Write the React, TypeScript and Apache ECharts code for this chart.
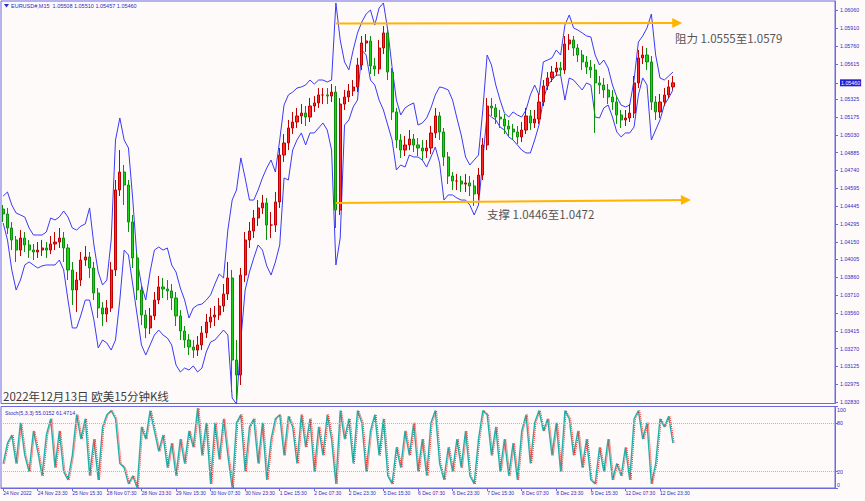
import React, { useEffect, useRef } from "react";
import * as echarts from "echarts";

const dateLabels = [
  "24 Nov 2022", "24 Nov 23:30", "25 Nov 15:30", "28 Nov 07:30", "28 Nov 23:30",
  "29 Nov 15:30", "30 Nov 07:30", "30 Nov 23:30", "1 Dec 15:30", "2 Dec 07:30",
  "2 Dec 23:30", "5 Dec 15:30", "6 Dec 07:30", "6 Dec 23:30", "7 Dec 15:30",
  "8 Dec 07:30", "8 Dec 23:30", "9 Dec 15:30", "12 Dec 07:30", "12 Dec 23:30",
];

const priceTicks = [
  1.0606, 1.0591, 1.0576, 1.05615, 1.0546, 1.05325, 1.05175, 1.0503, 1.04885, 1.0474,
  1.04595, 1.04445, 1.04295, 1.0415, 1.04005, 1.0386, 1.0371, 1.0356, 1.03415, 1.0327,
  1.03125, 1.02975, 1.0283,
];
const stochTicks = [0, 20, 80, 100];
const stochLevels = [20, 80];
const currentPrice = 1.0546;
const firstOpen = 1.0442;

// 2-hour bars
const closes = [
  1.04379, 1.04264, 1.04165, 1.04082, 1.04181, 1.04124, 1.04082, 1.04066, 1.04082, 1.04099,
  1.04082, 1.04132, 1.04148, 1.04181, 1.04099, 1.03918, 1.03753, 1.03835, 1.04000, 1.04025,
  1.03934, 1.03728, 1.03605, 1.03555, 1.03605, 1.03918, 1.04577, 1.04725, 1.04618, 1.04313,
  1.04017, 1.03753, 1.03547, 1.03440, 1.03539, 1.03670, 1.03778, 1.03761, 1.03745, 1.03687,
  1.03539, 1.03415, 1.03341, 1.03283, 1.03258, 1.03300, 1.03399, 1.03489, 1.03530, 1.03547,
  1.03621, 1.03720, 1.03852, 1.03176, 1.03052, 1.03876, 1.04165, 1.04239, 1.04346, 1.04429,
  1.04470, 1.04288, 1.04288, 1.04478, 1.04865, 1.04964, 1.05088, 1.05137, 1.05187, 1.05211,
  1.05178, 1.05269, 1.05294, 1.05360, 1.05360, 1.05351, 1.05384, 1.04412, 1.05285, 1.05343,
  1.05393, 1.05426, 1.05607, 1.05788, 1.05805, 1.05599, 1.05574, 1.05747, 1.05871, 1.05549,
  1.05220, 1.04989, 1.04906, 1.04948, 1.04997, 1.04948, 1.04923, 1.04898, 1.04923, 1.05047,
  1.05187, 1.05055, 1.04849, 1.04692, 1.04651, 1.04651, 1.04626, 1.04635, 1.04610, 1.04544,
  1.04700, 1.04948, 1.05269, 1.05253, 1.05178, 1.05162, 1.05104, 1.05079, 1.05055, 1.05014,
  1.05071, 1.05187, 1.05129, 1.05162, 1.05302, 1.05434, 1.05500, 1.05549, 1.05582, 1.05566,
  1.05780, 1.05813, 1.05747, 1.05689, 1.05632, 1.05590, 1.05566, 1.05459, 1.05442, 1.05401,
  1.05343, 1.05302, 1.05195, 1.05154, 1.05170, 1.05211, 1.05459, 1.05665, 1.05689, 1.05632,
  1.05302, 1.05220, 1.05302, 1.05360, 1.05426, 1.05460,
];

const highs = [
  1.04453, 1.04429, 1.04313, 1.04198, 1.04247, 1.04231, 1.04165, 1.04132, 1.04148, 1.04165,
  1.04148, 1.04198, 1.04231, 1.04264, 1.04231, 1.04132, 1.03984, 1.03901, 1.04066, 1.04115,
  1.04066, 1.03984, 1.03769, 1.03654, 1.03670, 1.03984, 1.04659, 1.04906, 1.04783, 1.04659,
  1.04371, 1.04066, 1.03794, 1.03588, 1.03605, 1.03736, 1.03868, 1.03852, 1.03835, 1.03802,
  1.03736, 1.03588, 1.03456, 1.03390, 1.03341, 1.03374, 1.03456, 1.03555, 1.03605, 1.03621,
  1.03687, 1.03802, 1.03984, 1.03918, 1.03341, 1.03934, 1.04231, 1.04313, 1.04412, 1.04494,
  1.04536, 1.04511, 1.04396, 1.04560, 1.04923, 1.05038, 1.05154, 1.05220, 1.05253, 1.05285,
  1.05269, 1.05335, 1.05351, 1.05417, 1.05417, 1.05417, 1.05450, 1.05434, 1.05335, 1.05401,
  1.05450, 1.05483, 1.05665, 1.05846, 1.05862, 1.05846, 1.05665, 1.05813, 1.05928, 1.05895,
  1.05582, 1.05253, 1.05038, 1.05022, 1.05071, 1.05038, 1.05005, 1.04989, 1.04989, 1.05104,
  1.05253, 1.05220, 1.05088, 1.04890, 1.04725, 1.04709, 1.04692, 1.04709, 1.04692, 1.04659,
  1.04758, 1.05005, 1.05335, 1.05335, 1.05285, 1.05236, 1.05203, 1.05154, 1.05121, 1.05104,
  1.05137, 1.05253, 1.05236, 1.05236, 1.05368, 1.05483, 1.05549, 1.05599, 1.05632, 1.05632,
  1.05846, 1.05862, 1.05846, 1.05780, 1.05730, 1.05681, 1.05648, 1.05615, 1.05516, 1.05500,
  1.05450, 1.05401, 1.05351, 1.05236, 1.05236, 1.05285, 1.05516, 1.05730, 1.05763, 1.05747,
  1.05681, 1.05351, 1.05368, 1.05417, 1.05483, 1.05516,
];

const lows = [
  1.04313, 1.04214, 1.04082, 1.03984, 1.04033, 1.04066, 1.04017, 1.04000, 1.04017, 1.04033,
  1.04017, 1.04049, 1.04082, 1.04099, 1.03984, 1.03835, 1.03629, 1.03572, 1.03786, 1.03951,
  1.03852, 1.03670, 1.03522, 1.03456, 1.03489, 1.03572, 1.03868, 1.04527, 1.04453, 1.04231,
  1.03934, 1.03670, 1.03464, 1.03357, 1.03390, 1.03506, 1.03637, 1.03687, 1.03670, 1.03588,
  1.03456, 1.03341, 1.03275, 1.03217, 1.03193, 1.03209, 1.03258, 1.03357, 1.03440, 1.03456,
  1.03506, 1.03572, 1.03670, 1.02912, 1.02846, 1.02970, 1.03819, 1.04099, 1.04181, 1.04280,
  1.04379, 1.04165, 1.04181, 1.04231, 1.04429, 1.04808, 1.04906, 1.05038, 1.05088, 1.05121,
  1.05104, 1.05137, 1.05220, 1.05253, 1.05285, 1.05285, 1.05302, 1.04264, 1.04371, 1.05236,
  1.05302, 1.05351, 1.05384, 1.05566, 1.05714, 1.05533, 1.05516, 1.05533, 1.05697, 1.05483,
  1.05154, 1.04923, 1.04841, 1.04857, 1.04906, 1.04890, 1.04857, 1.04824, 1.04841, 1.04873,
  1.05005, 1.04989, 1.04775, 1.04626, 1.04577, 1.04577, 1.04560, 1.04560, 1.04527, 1.04445,
  1.04494, 1.04659, 1.04906, 1.05187, 1.05121, 1.05088, 1.05038, 1.05022, 1.04989, 1.04956,
  1.04972, 1.05038, 1.05071, 1.05088, 1.05121, 1.05269, 1.05401, 1.05467, 1.05516, 1.05516,
  1.05533, 1.05730, 1.05681, 1.05632, 1.05566, 1.05533, 1.05500, 1.05047, 1.05368, 1.05335,
  1.05285, 1.05236, 1.05121, 1.05088, 1.05104, 1.05137, 1.05170, 1.05417, 1.05615, 1.05566,
  1.05236, 1.05154, 1.05170, 1.05269, 1.05335, 1.05401,
];

const upperBand = [
  1.04527, 1.04560, 1.04453, 1.04387, 1.04371, 1.04354, 1.04264, 1.04206, 1.04206, 1.04206,
  1.04231, 1.04346, 1.04330, 1.04354, 1.04404, 1.04354, 1.04264, 1.04247, 1.04280, 1.04297,
  1.04429, 1.04124, 1.03901, 1.03794, 1.03835, 1.04165, 1.04989, 1.05170, 1.04989, 1.04923,
  1.04494, 1.04000, 1.03794, 1.03670, 1.03901, 1.04082, 1.04107, 1.04082, 1.04099, 1.03959,
  1.03901, 1.03769, 1.03670, 1.03522, 1.03605, 1.03629, 1.03637, 1.03670, 1.03712, 1.03802,
  1.03885, 1.03852, 1.04247, 1.04494, 1.04577, 1.04841, 1.04676, 1.04494, 1.04494, 1.04577,
  1.04676, 1.04758, 1.04824, 1.04725, 1.04989, 1.05277, 1.05360, 1.05384, 1.05417, 1.05426,
  1.05442, 1.05483, 1.05450, 1.05483, 1.05483, 1.05467, 1.05483, 1.06118, 1.05813, 1.05632,
  1.05566, 1.05730, 1.05871, 1.05961, 1.06027, 1.06060, 1.05936, 1.06077, 1.06118, 1.05895,
  1.05590, 1.05318, 1.05195, 1.05253, 1.05277, 1.05294, 1.05112, 1.05129, 1.05170, 1.05253,
  1.05360, 1.05426, 1.05417, 1.05401, 1.05318, 1.05170, 1.05030, 1.04849, 1.04783, 1.04824,
  1.04865, 1.05236, 1.05689, 1.05607, 1.05442, 1.05318, 1.05211, 1.05178, 1.05220, 1.05195,
  1.05178, 1.05236, 1.05360, 1.05442, 1.05360, 1.05632, 1.05648, 1.05665, 1.05730, 1.05689,
  1.05936, 1.06019, 1.05912, 1.05895, 1.05871, 1.05846, 1.05838, 1.05689, 1.05607, 1.05648,
  1.05582, 1.05442, 1.05343, 1.05277, 1.05261, 1.05277, 1.05483, 1.05796, 1.05846, 1.05912,
  1.06027, 1.05689, 1.05500, 1.05483, 1.05516, 1.05549,
];

const lowerBand = [
  1.04305, 1.04165, 1.03918, 1.03753, 1.03835, 1.03959, 1.03984, 1.03959, 1.03934, 1.03951,
  1.03959, 1.03959, 1.03959, 1.04000, 1.03918, 1.03670, 1.03440, 1.03440, 1.03547, 1.03670,
  1.03670, 1.03506, 1.03275, 1.03341, 1.03316, 1.03258, 1.03341, 1.03670, 1.04082, 1.04041,
  1.03794, 1.03547, 1.03300, 1.03217, 1.03300, 1.03382, 1.03423, 1.03382, 1.03357, 1.03300,
  1.03135, 1.03077, 1.03110, 1.03094, 1.03127, 1.03077, 1.03110, 1.03242, 1.03324, 1.03341,
  1.03382, 1.03423, 1.03382, 1.02863, 1.02813, 1.03341, 1.03753, 1.03901, 1.04017, 1.04124,
  1.04082, 1.03951, 1.03876, 1.03984, 1.04124, 1.04676, 1.04659, 1.04906, 1.04989, 1.05047,
  1.04948, 1.05047, 1.05047, 1.05088, 1.05129, 1.05071, 1.04906, 1.03959, 1.04181, 1.05112,
  1.05154, 1.05261, 1.05318, 1.05730, 1.05689, 1.05483, 1.05442, 1.05318, 1.05236, 1.05112,
  1.04989, 1.04742, 1.04783, 1.04766, 1.04865, 1.04849, 1.04849, 1.04824, 1.04766, 1.04849,
  1.04931, 1.04799, 1.04494, 1.04536, 1.04536, 1.04511, 1.04494, 1.04494, 1.04453, 1.04371,
  1.04453, 1.04824, 1.05211, 1.05178, 1.05154, 1.05096, 1.05071, 1.05014, 1.04989, 1.04948,
  1.04906, 1.04882, 1.04882, 1.04989, 1.05112, 1.05318, 1.05442, 1.05483, 1.05524, 1.05524,
  1.05318, 1.05500, 1.05483, 1.05442, 1.05401, 1.05459, 1.05442, 1.05178, 1.05170, 1.05253,
  1.05277, 1.05178, 1.05055, 1.05014, 1.05047, 1.05047, 1.05096, 1.05360, 1.05500, 1.05442,
  1.04989, 1.05071, 1.05154, 1.05277, 1.05335, 1.05401,
];

const stochMain = [
  30, 55, 65, 30, 80, 40, 20, 70, 45, 15,
  65, 85, 25, 70, 20, 10, 40, 90, 60, 85,
  15, 60, 10, 75, 90, 95, 85, 30, 25, 5,
  15, 0, 75, 60, 95, 70, 45, 65, 25, 55,
  15, 60, 30, 70, 50, 98, 40, 80, 5, 80,
  35, 85, 40, 0, 80, 90, 20, 75, 85, 30,
  80, 10, 60, 85, 90, 40, 88, 75, 30, 90,
  50, 85, 20, 75, 40, 90, 60, 5, 95, 60,
  85, 30, 95, 80, 20, 70, 90, 40, 85, 15,
  5, 50, 25, 70, 40, 80, 20, 60, 15, 80,
  95, 30, 10, 50, 20, 60, 25, 70, 15, 5,
  60, 95, 90, 40, 75, 20, 60, 15, 55, 10,
  70, 90, 30, 80, 95, 70, 85, 40, 80, 20,
  95, 85, 40, 70, 25, 60, 10, 5, 50, 20,
  60, 10, 30, 15, 50, 10, 85, 95, 60, 80,
  5, 30, 85, 75, 88, 55,
];

const resistanceLine = [[77, 1.05949], [156, 1.05953]];
const supportLine = [[77, 1.0447], [158, 1.04494]];

const headerText = "EURUSD#,M15  1.05508 1.05510 1.05457 1.05460";
const stochHeader = "Stoch(5,3,3) 55.0152 61.4714";
const titleText = "2022年12月13日 欧美15分钟K线";
const resistanceText = "阻力 1.0555至1.0579";
const supportText = "支撑 1.0446至1.0472";

const SLOTS = 193;
const LABEL_STEP = 8;
const AXIS = "#6b6be0";
const TXT = "#2a2ac8";
const SMALL_FONT = "Liberation Sans, Tahoma, sans-serif";
const CJK_FONT = "Noto Sans CJK SC, sans-serif";

export default function App() {
  const ref = useRef<HTMLDivElement>(null);

  useEffect(() => {
    if (!ref.current) return;
    const chart = echarts.init(ref.current, null, { renderer: "svg" });

    const candles = closes.map((c, i) => {
      const o = i === 0 ? firstOpen : closes[i - 1];
      return [o, c, lows[i], highs[i]];
    });
    const categories = Array.from({ length: SLOTS }, (_, i) => String(i));
    const isLabelIdx = (i: number) =>
      i % LABEL_STEP === 0 && i / LABEL_STEP < dateLabels.length;

    const option: any = {
      animation: false,
      backgroundColor: "#fffafa",
      grid: [
        {
          left: 1, top: 1, width: 834, height: 402.5,
          show: true, borderColor: AXIS, borderWidth: 1,
          outerBoundsMode: "none",
        },
        {
          left: 1, top: 406.5, width: 834, height: 81.5,
          show: true, borderColor: AXIS, borderWidth: 1,
          outerBoundsMode: "none",
        },
      ],
      xAxis: [
        { type: "category", gridIndex: 0, data: categories, boundaryGap: true, show: false },
        {
          type: "category", gridIndex: 1, data: categories, boundaryGap: true,
          axisLine: { show: true, lineStyle: { color: AXIS } },
          axisTick: {
            show: true, alignWithLabel: true, length: 3,
            interval: (i: number) => isLabelIdx(i),
            lineStyle: { color: AXIS },
          },
          axisLabel: {
            interval: (i: number) => isLabelIdx(i),
            formatter: (v: string) => {
              const n = Number(v);
              return isLabelIdx(n) ? dateLabels[n / LABEL_STEP] : "";
            },
            align: "left", margin: 2, fontSize: 5, color: TXT, fontFamily: SMALL_FONT,
          },
          splitLine: { show: false },
        },
        { type: "value", gridIndex: 1, min: -0.5, max: SLOTS - 0.5, show: false },
      ],
      yAxis: [
        {
          type: "value", gridIndex: 0, position: "right",
          min: 1.028176, max: 1.061342,
          axisLine: { show: true, onZero: false, lineStyle: { color: AXIS } },
          axisTick: { show: true, customValues: priceTicks, length: 3, lineStyle: { color: AXIS } },
          axisLabel: {
            customValues: priceTicks,
            margin: 5, fontSize: 5.3, color: TXT, fontFamily: SMALL_FONT,
            formatter: (v: number) =>
              Math.abs(v - currentPrice) < 1e-7 ? `{cur|${v.toFixed(5)}}` : v.toFixed(5),
            rich: {
              cur: {
                backgroundColor: "#1f1fd6", color: "#ffffff", fontSize: 5.3,
                fontFamily: SMALL_FONT, padding: [1, 1, 1, 1],
              },
            },
          },
          splitLine: { show: false },
        },
        {
          type: "value", gridIndex: 1, position: "right", min: 0, max: 100,
          axisLine: { show: true, onZero: false, lineStyle: { color: AXIS } },
          axisTick: { show: true, customValues: stochTicks, length: 3, lineStyle: { color: AXIS } },
          axisLabel: {
            customValues: stochTicks,
            margin: 2, fontSize: 5.3, color: TXT, fontFamily: SMALL_FONT,
            formatter: (v: number) =>
              v === 100 ? `{top|${v}}` : v === 0 ? `{bot|${v}}` : String(v),
            rich: {
              top: { padding: [6, 0, 0, 0], fontSize: 5.3, color: TXT, fontFamily: SMALL_FONT },
              bot: { padding: [0, 0, 6, 0], fontSize: 5.3, color: TXT, fontFamily: SMALL_FONT },
            },
          },
          splitLine: { show: false },
        },
      ],
      series: [
        {
          type: "line", xAxisIndex: 0, yAxisIndex: 0, data: upperBand,
          showSymbol: false, silent: true, z: 2,
          lineStyle: { color: "#3a3af5", width: 1 },
        },
        {
          type: "line", xAxisIndex: 0, yAxisIndex: 0, data: lowerBand,
          showSymbol: false, silent: true, z: 2,
          lineStyle: { color: "#3a3af5", width: 1 },
        },
        {
          type: "candlestick", xAxisIndex: 0, yAxisIndex: 0, data: candles,
          barWidth: 2.6, silent: true, z: 3,
          itemStyle: {
            color: "#ff2a2a", color0: "#19d419",
            borderColor: "#c00000", borderColor0: "#0a900a", borderWidth: 1,
          },
          markLine: {
            silent: true, symbol: ["none", "triangle"], symbolSize: 10,
            label: { show: false },
            lineStyle: { color: "#ffb400", width: 2, type: "solid" },
            emphasis: { disabled: true },
            data: [
              [{ coord: resistanceLine[0] }, { coord: resistanceLine[1] }],
              [{ coord: supportLine[0] }, { coord: supportLine[1] }],
            ],
          },
        },
        {
          type: "line", xAxisIndex: 1, yAxisIndex: 1, data: stochMain,
          showSymbol: false, silent: true,
          lineStyle: { color: "#20b2aa", width: 1.4 },
          markLine: {
            silent: true, symbol: "none", label: { show: false },
            lineStyle: { color: "#b8b8b8", width: 1, type: "dotted" },
            emphasis: { disabled: true },
            data: stochLevels.map((v) => ({ yAxis: v })),
          },
        },
        {
          type: "line", xAxisIndex: 2, yAxisIndex: 1,
          data: stochMain.map((v, i) => [i + 0.3, v]),
          showSymbol: false, silent: true,
          lineStyle: { color: "#ff2020", width: 1, type: "dotted" },
        },
      ],
      graphic: [
        {
          type: "polygon", silent: true,
          shape: { points: [[4, 4], [9, 4], [6.5, 7.5]] },
          style: { fill: "#2a2ac8" },
        },
        {
          type: "text", x: 11, y: 6, silent: true,
          style: { text: headerText, fontSize: 5.5, fill: TXT, fontFamily: SMALL_FONT, verticalAlign: "middle" },
        },
        {
          type: "text", x: 5, y: 413, silent: true,
          style: { text: stochHeader, fontSize: 5.3, fill: TXT, fontFamily: SMALL_FONT, verticalAlign: "middle" },
        },
        {
          type: "text", x: 3, y: 396, silent: true,
          style: { text: titleText, fontSize: 11.5, fill: "#3a3a3a", fontFamily: CJK_FONT, verticalAlign: "middle" },
        },
        {
          type: "text", x: 675, y: 38, silent: true,
          style: { text: resistanceText, fontSize: 11.5, fill: "#555555", fontFamily: CJK_FONT, verticalAlign: "middle" },
        },
        {
          type: "text", x: 487, y: 213.5, silent: true,
          style: { text: supportText, fontSize: 11.5, fill: "#555555", fontFamily: CJK_FONT, verticalAlign: "middle" },
        },
      ],
    };

    chart.setOption(option);
    return () => chart.dispose();
  }, []);

  return (
    <div
      ref={ref}
      style={{ position: "fixed", left: 0, top: 0, width: 865, height: 501 }}
    />
  );
}
